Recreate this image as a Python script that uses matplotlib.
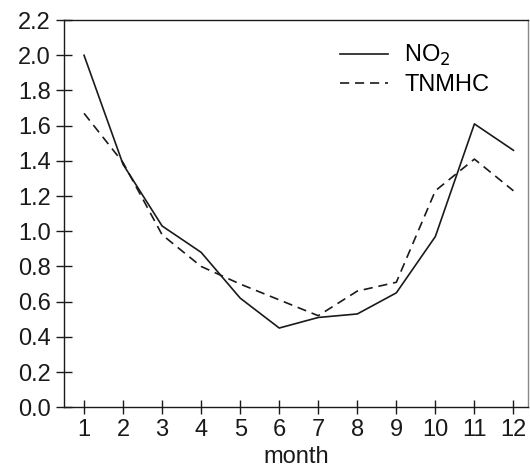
import matplotlib
matplotlib.use("Agg")
import matplotlib.pyplot as plt

plt.rcParams["font.family"] = ["Liberation Sans", "DejaVu Sans"]

months = list(range(1, 13))
no2    = [2.00, 1.38, 1.03, 0.88, 0.62, 0.45, 0.51, 0.53, 0.65, 0.97, 1.61, 1.46]
tnmhc  = [1.67, 1.39, 0.98, 0.80, 0.70, 0.61, 0.52, 0.66, 0.71, 1.23, 1.41, 1.23]
yticks = [0.0, 0.2, 0.4, 0.6, 0.8, 1.0, 1.2, 1.4, 1.6, 1.8, 2.0, 2.2]

fig = plt.figure(figsize=(5.30, 4.67), dpi=100)
ax = fig.add_axes([0.121, 0.128, 0.875, 0.829])

ax.plot(months, no2, color="#1a1a1a", lw=1.2, label="NO$_2$")
ax.plot(months, tnmhc, color="#1a1a1a", lw=1.2, dashes=(5.5, 3.5), label="TNMHC")

ax.set_xlim(0.49, 12.37)
ax.set_ylim(0.0, 2.2)
ax.set_xticks(months)
ax.set_yticks(yticks)
ax.set_yticklabels([f"{v:.1f}" for v in yticks])

ax.tick_params(axis="y", direction="inout", length=11, width=1.0, pad=4,
               labelsize=17, colors="#1a1a1a")
ax.tick_params(axis="x", direction="inout", length=9.5, width=1.0, pad=4,
               labelsize=17, colors="#1a1a1a")
for sp in ax.spines.values():
    sp.set_linewidth(1.0)
    sp.set_edgecolor("#1a1a1a")
ax.spines["right"].set_edgecolor("#888888")

ax.set_xlabel("month", fontsize=17, labelpad=3, color="#1a1a1a")

leg = ax.legend(loc="upper left", bbox_to_anchor=(0.55, 0.995), frameon=False,
                fontsize=17, handlelength=2.0, handletextpad=0.7,
                labelspacing=0.25)

fig.savefig("out.png", dpi=100)
